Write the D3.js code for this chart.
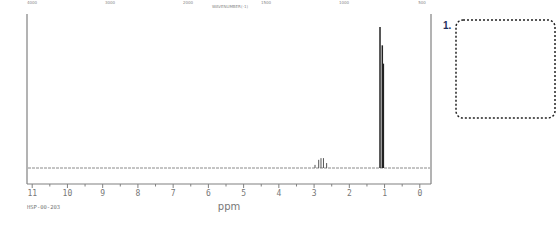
<!DOCTYPE html>
<html lang="en">
    <head>
        <meta charset="utf-8">
        <title>nmr spectrum</title>
        <script type="text/javascript" src="https://cdn.jsdelivr.net/npm/d3@7"></script>
        <style>
            body { margin: 0; background: #fff; }
        </style>
    </head>
    <body>
        <script type="text/javascript">
            // peak positions (ppm) and heights (relative intensity)
            var bigPeaksPpm = [1.115, 1.05, 1.02];
            var bigPeaksInt = [100, 87, 74];
            var smallPeaksPpm = [2.96, 2.855, 2.79, 2.72, 2.63];
            var smallPeaksInt = [2.2, 5.8, 7, 7, 3.5];
            var ppmTicks = [11, 10, 9, 8, 7, 6, 5, 4, 3, 2, 1, 0];
            var topLabels = ["4000", "3000", "2000", "1500", "1000", "500"];

            var w = 560;
            var h = 240;
            var margin = {top: 14, left: 27, right: 129, bottom: 56};
            var svg = d3.select("body")
                        .append("svg")
                        .attr("width", w)
                        .attr("height", h);

            var xscale = d3.scaleLinear()
                .domain([11, 0])
                .range([31.7, 419.3]);
            var yscale = d3.scaleLinear()
                .domain([0, 100])
                .range([168, 27]);
            var axisY = 184;
            var grey = "#808080";

            // frame (left, right, bottom)
            svg.append("line").attr("x1", margin.left).attr("x2", margin.left)
               .attr("y1", margin.top).attr("y2", axisY)
               .attr("stroke", grey).attr("stroke-width", 1.2);
            svg.append("line").attr("x1", w - margin.right).attr("x2", w - margin.right)
               .attr("y1", margin.top).attr("y2", axisY)
               .attr("stroke", grey).attr("stroke-width", 1.2);

            var xaxis = d3.axisBottom(xscale)
                .tickValues(d3.range(0, 11.5, 0.5))
                .tickSize(3)
                .tickFormat(function(d) { return ppmTicks.indexOf(d) >= 0 ? d : ""; });
            var g = svg.append("g")
                .attr("transform", "translate(0," + axisY + ")")
                .call(xaxis);
            g.select(".domain").remove();
            g.append("line").attr("x1", margin.left).attr("x2", w - margin.right)
                .attr("stroke", grey).attr("stroke-width", 1.2);
            g.selectAll(".tick line").attr("stroke", grey)
                .attr("y2", function(d) { return Number.isInteger(d) ? 4 : 2.5; });
            g.selectAll(".tick text")
                .attr("y", 6)
                .attr("fill", "#777")
                .attr("font-family", "DejaVu Sans Mono")
                .attr("font-size", 8);

            // baseline
            svg.append("line")
               .attr("x1", margin.left + 1).attr("x2", w - margin.right - 1)
               .attr("y1", yscale(0)).attr("y2", yscale(0))
               .attr("stroke", "#8a8a8a").attr("stroke-width", 1)
               .attr("stroke-dasharray", "3,1");

            function make_peaks(ppm, ints, width, colour) {
                svg.append("g").selectAll("line")
                    .data(ppm)
                    .enter()
                    .append("line")
                    .attr("x1", function(d) { return xscale(d); })
                    .attr("x2", function(d) { return xscale(d); })
                    .attr("y1", yscale(0))
                    .attr("y2", function(d, i) { return yscale(ints[i]); })
                    .attr("stroke", colour)
                    .attr("stroke-width", width);
            }
            make_peaks(smallPeaksPpm, smallPeaksInt, 1, "#555");
            make_peaks(bigPeaksPpm, bigPeaksInt, 1.5, "#222");

            // top wavenumber labels
            var topScale = d3.scalePoint().domain(topLabels).range([32, 422]);
            svg.append("g").selectAll("text")
                .data(topLabels)
                .enter()
                .append("text")
                .attr("x", function(d) { return topScale(d); })
                .attr("y", 4)
                .attr("text-anchor", "middle")
                .attr("font-family", "DejaVu Sans")
                .attr("font-size", 4)
                .attr("fill", "#888")
                .text(function(d) { return d; });
            svg.append("text").attr("x", 230).attr("y", 8)
               .attr("text-anchor", "middle")
               .attr("font-family", "DejaVu Sans").attr("font-size", 4)
               .attr("fill", "#888").text("WAVENUMBER(-1)");

            svg.append("text").attr("x", 229).attr("y", 210)
               .attr("text-anchor", "middle")
               .attr("font-family", "DejaVu Sans").attr("font-size", 10)
               .attr("fill", "#777").text("ppm");
            svg.append("text").attr("x", 27).attr("y", 209)
               .attr("font-family", "DejaVu Sans Mono").attr("font-size", 5.5)
               .attr("fill", "#777").text("HSP-00-203");

            // answer box
            svg.append("text").attr("x", 443).attr("y", 29)
               .attr("font-family", "Liberation Sans").attr("font-weight", "bold")
               .attr("font-size", 10).attr("fill", "#1f2f5c").text("1.");
            svg.append("rect")
               .attr("x", 456).attr("y", 20).attr("width", 99).attr("height", 98)
               .attr("rx", 7).attr("ry", 7)
               .attr("fill", "none").attr("stroke", "#222")
               .attr("stroke-width", 1.5).attr("stroke-dasharray", "2,2");
        </script>
    </body>
</html>
